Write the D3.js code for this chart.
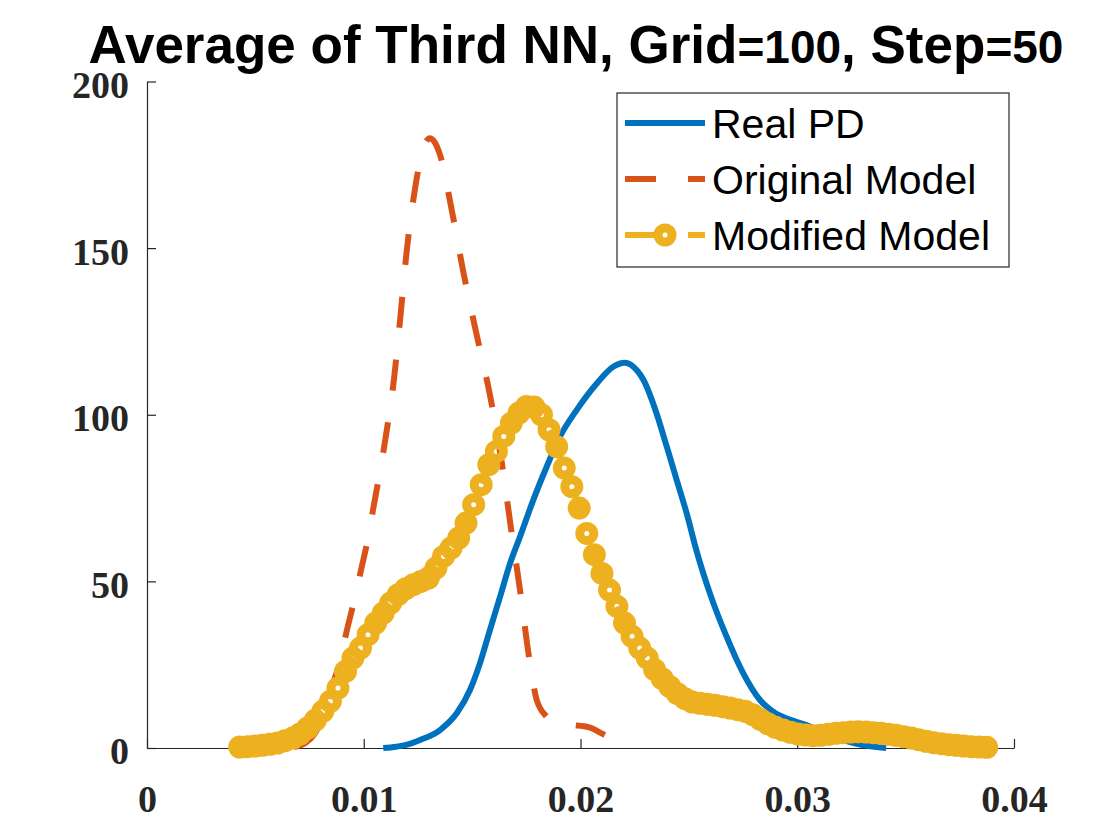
<!DOCTYPE html>
<html>
<head>
<meta charset="utf-8">
<script src="https://cdn.jsdelivr.net/npm/d3@7"></script>
<style>
  body { margin: 0; background: #fff; }
  #chart svg { display: block; }
</style>
</head>
<body>
<div id="chart"></div>
<script>
// tick values
var xTicks = [0, 0.01, 0.02, 0.03, 0.04];
var yTicks = [0, 50, 100, 150, 200];
var xTickLabels = ["0", "0.01", "0.02", "0.03", "0.04"];
var yTickLabels = ["0", "50", "100", "150", "200"];

var seriesNames = ["Real PD", "Original Model", "Modified Model"];

// Real PD
var realX = [0.0109, 0.0115, 0.0120, 0.0126, 0.01352, 0.01429, 0.0149, 0.01536, 0.01582, 0.01629,
    0.01675, 0.01721, 0.01782, 0.01844, 0.01905, 0.01982, 0.02075, 0.02151, 0.02205, 0.02259,
    0.0229, 0.02351, 0.02398, 0.02444, 0.0249, 0.02536, 0.02597, 0.02674, 0.02751, 0.02828,
    0.0290, 0.0298, 0.0306, 0.0314, 0.0322, 0.0330, 0.0341];
var realY = [0, 0.4, 1.0, 2.4, 5.4, 10.4, 17.4, 25.4, 35.4, 45.4,
    55.4, 63.4, 74.4, 84.4, 93.4, 101.4, 109.4, 114.4, 115.6, 113.4,
    110.5, 100.4, 90.4, 80.4, 70.4, 59, 46.4, 33.4, 22.4, 14.4,
    10.4, 8.2, 6.4, 4, 2.2, 0.9, 0];

// Original Model
var origX = [0.0068, 0.0073, 0.0077, 0.0081, 0.00852, 0.0089, 0.00921, 0.00955, 0.00986, 0.0102, 0.01047,
    0.01075, 0.01103, 0.0114, 0.01167, 0.01198, 0.01237, 0.0127, 0.01306, 0.0133, 0.01352, 0.01406,
    0.01459, 0.01521, 0.01585, 0.01636, 0.01677, 0.01721, 0.01767, 0.01798, 0.01844, 0.0189, 0.0196,
    0.0204, 0.0210, 0.0217, 0.0220];
var origY = [0.3, 1.5, 4, 9, 18, 26, 35, 44, 53, 63, 73,
    83, 94, 111, 128, 149, 168, 179, 183, 181.5, 178, 161.4,
    143, 124, 105, 86, 67, 47.4, 25.4, 14.4, 9.4, 7.4, 6.9,
    6.2, 4.3, 1.9, 0.8];

// Modified Model (one marker per point)
var modX = [0.00428, 0.00463, 0.00498, 0.00532, 0.00567, 0.00602, 0.00637, 0.00672, 0.00706, 0.00741,
    0.00776, 0.00811, 0.00846, 0.00881, 0.00916, 0.00950, 0.00985, 0.01020, 0.01055, 0.01090,
    0.01124, 0.01159, 0.01194, 0.01229, 0.01264, 0.01298, 0.01333, 0.01368, 0.01403, 0.01438,
    0.01472, 0.01507, 0.01542, 0.01577, 0.01612, 0.01646, 0.01681, 0.01716, 0.01751, 0.01786,
    0.01820, 0.01855, 0.01890, 0.01925, 0.01960, 0.01994, 0.02029, 0.02064, 0.02099, 0.02134,
    0.02168, 0.02203, 0.02238, 0.02273, 0.02308, 0.02342, 0.02377, 0.02412, 0.02447, 0.02482,
    0.02516, 0.02551, 0.02586, 0.02621, 0.02656, 0.02690, 0.02725, 0.02760, 0.02795, 0.02830,
    0.02864, 0.02899, 0.02934, 0.02969, 0.03004, 0.03038, 0.03073, 0.03108, 0.03143, 0.03178,
    0.03212, 0.03247, 0.03282, 0.03317, 0.03352, 0.03386, 0.03421, 0.03456, 0.03491, 0.03526,
    0.03560, 0.03595, 0.03630, 0.03665, 0.03700, 0.03734, 0.03769, 0.03804, 0.03839, 0.03874];
var modY = [0.3, 0.4, 0.6, 0.8, 1.1, 1.5, 2.2, 3.0, 4.2, 6.0,
    8.3, 11, 14, 18, 23, 27, 30, 34, 37.5, 40.5,
    43.5, 46, 47.8, 49, 50, 51, 54, 57.5, 60, 63,
    67.5, 73, 79, 85, 89, 93.5, 97.5, 100.5, 102.5, 102.3,
    100, 95.5, 90.4, 84, 78.4, 72, 64.4, 58, 52.4, 47.4,
    42.5, 37.5, 33.5, 30, 27, 23.5, 20.8, 18.4, 16.3, 14.8,
    13.8, 13.4, 13.1, 12.8, 12.4, 12, 11.5, 11, 10, 8.6,
    7.3, 6.2, 5.4, 4.7, 4.2, 3.9, 3.7, 3.8, 4.1, 4.4,
    4.6, 4.8, 4.9, 4.8, 4.6, 4.4, 4.1, 3.8, 3.4, 3.0,
    2.5, 2.0, 1.6, 1.3, 1.0, 0.8, 0.6, 0.4, 0.3, 0.2];

function init() {
    var w = 1120;
    var h = 840;
    var blue = "#0072BD", orange = "#D95319", yellow = "#EDB120", axisCol = "#262626";
    var tickFont = "'Liberation Serif', 'Times New Roman', serif";
    var sansFont = "'Liberation Sans', Arial, Helvetica, sans-serif";

    var svg = d3.select("#chart")
        .append("svg")
        .attr("width", w)
        .attr("height", h);

    svg.append("rect").attr("width", w).attr("height", h).attr("fill", "#fff");

    var xScale = d3.scaleLinear().domain([0, 0.04]).range([147, 1014]);
    var yScale = d3.scaleLinear().domain([0, 200]).range([748, 81.5]);

    function zip(xs, ys) {
        return xs.map(function(x, i) { return { x: x, y: ys[i] }; });
    }
    var real = zip(realX, realY);
    var orig = zip(origX, origY);
    var mod = zip(modX, modY);

    // axes (ticks pointing inwards)
    var xAxis = d3.axisBottom(xScale)
        .tickValues(xTicks)
        .tickFormat(function(d, i) { return xTickLabels[i]; })
        .tickSizeInner(-9).tickSizeOuter(0).tickPadding(37);
    var gx = svg.append("g")
        .attr("transform", "translate(0," + yScale(0) + ")")
        .call(xAxis);

    var yAxis = d3.axisLeft(yScale)
        .tickValues(yTicks)
        .tickFormat(function(d, i) { return yTickLabels[i]; })
        .tickSizeInner(-9).tickSizeOuter(0).tickPadding(18);
    var gy = svg.append("g")
        .attr("transform", "translate(" + xScale(0) + ",0)")
        .call(yAxis);

    [gx, gy].forEach(function(g) {
        g.select(".domain").attr("stroke", axisCol).attr("stroke-width", 1.2);
        g.selectAll(".tick line").attr("stroke", axisCol).attr("stroke-width", 1.2);
        g.selectAll(".tick text")
            .attr("fill", axisCol)
            .style("font-family", tickFont)
            .style("font-weight", "bold")
            .style("font-size", "38px");
    });
    gy.selectAll(".tick text").attr("dy", "0.42em");

    var line = d3.line()
        .x(function(d) { return xScale(d.x); })
        .y(function(d) { return yScale(d.y); })
        .curve(d3.curveMonotoneX);

    // Real PD
    svg.append("path")
        .datum(real)
        .attr("d", line)
        .attr("fill", "none")
        .attr("stroke", blue)
        .attr("stroke-width", 6);

    // Original Model
    svg.append("path")
        .datum(orig)
        .attr("d", line)
        .attr("fill", "none")
        .attr("stroke", orange)
        .attr("stroke-width", 6)
        .attr("stroke-dasharray", "31 32");

    // Modified Model: dashed line plus open circle markers
    svg.append("path")
        .datum(mod)
        .attr("d", line.curve(d3.curveLinear))
        .attr("fill", "none")
        .attr("stroke", yellow)
        .attr("stroke-width", 6)
        .attr("stroke-dasharray", "31 32");

    svg.append("g").selectAll("circle")
        .data(mod)
        .enter().append("circle")
        .attr("cx", function(d) { return xScale(d.x); })
        .attr("cy", function(d) { return yScale(d.y); })
        .attr("r", 7)
        .attr("fill", "none")
        .attr("stroke", yellow)
        .attr("stroke-width", 9);

    // Title
    var title = svg.append("text")
        .attr("x", 576)
        .attr("y", 63)
        .attr("text-anchor", "middle")
        .style("font-family", sansFont)
        .style("font-weight", "bold")
        .style("font-size", "53px")
        .attr("fill", "#000");
    title.append("tspan").text("Average of Third NN, Grid");
    title.append("tspan").style("font-size", "46px").text("=100");
    title.append("tspan").text(", Step");
    title.append("tspan").style("font-size", "46px").text("=50");

    // Legend
    var legend = svg.append("g");
    legend.append("rect")
        .attr("x", 617).attr("y", 93)
        .attr("width", 392).attr("height", 174)
        .attr("fill", "#fff")
        .attr("stroke", axisCol)
        .attr("stroke-width", 1.2);

    var rowY = [123, 179, 235];
    var styles = [
        { color: blue, dash: null, marker: false },
        { color: orange, dash: "31 32", marker: false },
        { color: yellow, dash: "31 32", marker: true }
    ];
    seriesNames.forEach(function(name, i) {
        var s = styles[i];
        var l = legend.append("line")
            .attr("x1", 625).attr("x2", 705)
            .attr("y1", rowY[i]).attr("y2", rowY[i])
            .attr("stroke", s.color)
            .attr("stroke-width", 6);
        if (s.dash) l.attr("stroke-dasharray", s.dash);
        if (s.marker) {
            legend.append("circle")
                .attr("cx", 665).attr("cy", rowY[i])
                .attr("r", 7)
                .attr("fill", "#fff")
                .attr("stroke", s.color)
                .attr("stroke-width", 9);
        }
        legend.append("text")
            .attr("x", 712)
            .attr("y", rowY[i] + 15)
            .style("font-family", sansFont)
            .style("font-size", "41px")
            .attr("fill", "#000")
            .text(name);
    });
}

window.onload = init;
</script>
</body>
</html>
